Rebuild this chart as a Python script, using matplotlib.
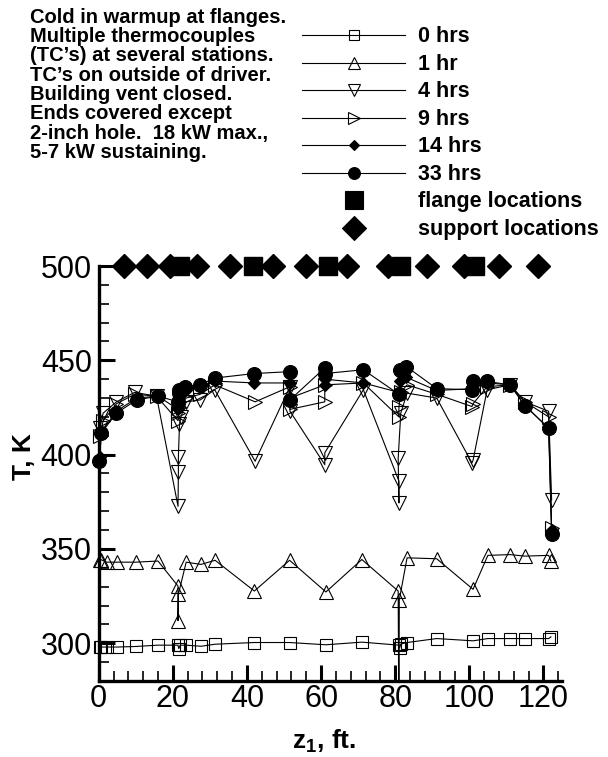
import matplotlib
matplotlib.use("Agg")
import matplotlib.pyplot as plt
from matplotlib.lines import Line2D
from matplotlib.ticker import MultipleLocator
from matplotlib.transforms import Bbox, TransformedBbox

plt.rcParams['font.family'] = ['Liberation Sans', 'DejaVu Sans']
plt.rcParams['mathtext.fontset'] = 'custom'
plt.rcParams['mathtext.rm'] = 'Liberation Sans'
plt.rcParams['mathtext.bf'] = 'Liberation Sans:bold'

# station positions (ft) and temperatures (K) for each time
z_0 = [0.3, 0.5, 2.2, 5, 10, 16, 21.4, 21.6, 22, 23.6, 27.6, 31.4, 42, 51.5, 61.3, 71,
       81, 81.2, 81.5, 83.2, 91.2, 101, 105, 111, 115, 121.4, 122]
T_0 = [298, 298, 298, 298, 298.3, 299, 299, 297.2, 299, 299, 298.4, 299.5, 300.4, 300.4,
       299.2, 300.6, 299, 297.5, 299.6, 300.4, 302.5, 301.3, 302.5, 302.5, 302.5, 302.5, 303.4]

z_1 = [0.3, 0.5, 2.2, 5, 10, 16, 21.4, 21.4, 21.5, 23.6, 27.6, 31.4, 42, 51.5, 61.3, 71,
       80.8, 81, 81.1, 83.2, 91.2, 101, 105, 111, 115, 121.4, 122]
T_1 = [344, 344.4, 343, 343, 343, 343.6, 330.3, 312, 326, 343, 341.8, 344, 327.7, 344,
       327.2, 344.4, 327.7, 250, 323, 345.3, 344.8, 328.6, 346.6, 347, 346.2, 346.6, 343.6]

z_4 = [0.3, 1.2, 4.8, 9.7, 15.6, 21.4, 21.5, 21.5, 21.8, 22.2, 23.6, 27.4, 31.3, 42.2,
       51.6, 51.6, 61, 61, 71.4, 81, 81, 80.8, 81.5, 83.2, 91.2, 100.7, 101, 104.8, 111,
       115, 121.4, 122.2]
T_4 = [414, 422, 428, 433, 431, 372.6, 391, 399, 416, 420, 428, 429, 434.4, 396.5,
       436, 423, 394.7, 401, 434.4, 386, 374.4, 398, 422, 432.6, 430, 395.6, 397, 434.4,
       437, 428, 423, 376]

z_9 = [0.3, 1.2, 4.8, 9.7, 15.6, 21.4, 21.5, 21.8, 23.6, 27.4, 31.3, 42.2, 51.6, 51.6,
       61, 61, 71.4, 81, 81, 81.5, 83.2, 91.2, 100.7, 101, 104.8, 111, 115, 121.4, 122.2]
T_9 = [410, 418, 427, 432, 431, 418, 422, 425, 430, 432, 437, 428, 436, 424,
       428, 437, 438, 420, 425, 433, 437, 432, 425.5, 427, 436, 437, 428, 420, 361]

z_14 = [0.3, 0.7, 4.8, 10.2, 16, 21.4, 21.5, 21.8, 23.6, 27.3, 31.3, 42, 51.6, 51.6,
        61, 61, 71.4, 81, 81.3, 83, 91.2, 101, 104.8, 111, 115, 121.4, 122.2]
T_14 = [399, 412, 423, 430, 431, 424, 428, 431, 434, 436, 439, 438, 438, 430,
        437, 440, 438, 433, 439, 441, 434, 435, 438, 437, 426, 414, 360]

z_33 = [0.2, 0.7, 4.8, 10.2, 16, 21.4, 21.6, 21.8, 23.3, 27.3, 31.3, 42, 51.6, 51.6,
        61, 61, 71.4, 81, 81.3, 82, 83, 91.2, 100.6, 101, 104.8, 111, 115, 121.4, 122.2]
T_33 = [396.5, 411.5, 422, 429, 431, 428, 432.6, 434, 436, 437, 440.6, 443, 444, 429,
        446, 443, 445, 432, 445, 444, 446.7, 435, 434.4, 438.8, 438.8, 437, 426, 414, 358]

flange_z = [22, 41.5, 62, 81.5, 101.5]
support_z = [6.7, 13, 19.3, 26.5, 35.5, 47, 56, 67, 78, 88.5, 98.5, 108, 118.5]
top_T = 500

labels = ['0 hrs', '1 hr', '4 hrs', '9 hrs', '14 hrs', '33 hrs',
          'flange locations', 'support locations']

notes = ['Cold in warmup at flanges.',
         'Multiple thermocouples',
         "(TC\u2019s) at several stations.",
         "TC\u2019s on outside of driver.",
         'Building vent closed.',
         'Ends covered except',
         '2-inch hole.  18 kW max.,',
         '5-7 kW sustaining.']

W, H = 608, 757
fig = plt.figure(figsize=(W / 100, H / 100), dpi=100)
ax = fig.add_axes([98.7 / W, 1 - 681 / H, 463.3 / W, 415 / H])

clip = TransformedBbox(Bbox([[-0.1, 0.0], [1.1, 1.2]]), ax.transAxes)

styles = [
    (z_0, T_0, dict(marker='s', ms=8.5, mfc='none')),
    (z_1, T_1, dict(marker='^', ms=10, mfc='none')),
    (z_4, T_4, dict(marker='v', ms=10, mfc='none')),
    (z_9, T_9, dict(marker='>', ms=10, mfc='none')),
    (z_14, T_14, dict(marker='D', ms=6, mfc='black')),
    (z_33, T_33, dict(marker='o', ms=10, mfc='black')),
]
for z, T, st in styles:
    ln, = ax.plot(z, T, color='black', lw=0.8, mec='black', mew=0.8, **st)
    ln.set_clip_box(clip)

ax.plot(flange_z, [top_T] * len(flange_z), ls='none', marker='s', ms=12.5,
        color='black', clip_on=False, zorder=5)
ax.plot(support_z, [top_T] * len(support_z), ls='none', marker='D', ms=12.2,
        color='black', clip_on=False, zorder=5)

ax.set_xlim(0, 125)
ax.set_ylim(280, 500)
ax.xaxis.set_major_locator(MultipleLocator(20))
ax.xaxis.set_minor_locator(MultipleLocator(4))
ax.yaxis.set_major_locator(MultipleLocator(50))
ax.yaxis.set_minor_locator(MultipleLocator(10))
ax.spines['top'].set_visible(False)
ax.spines['right'].set_visible(False)
for s in ['left', 'bottom']:
    ax.spines[s].set_linewidth(2.4)
ax.tick_params(which='both', direction='in', top=False, right=False, labelsize=22)
ax.tick_params(which='major', length=11.5, width=2.2)
ax.tick_params(which='minor', length=7, width=1.2)
ax.tick_params(axis='x', pad=2)
ax.tick_params(axis='y', pad=5)

ax.set_xlabel(r'$\mathbf{z_1}$, ft.', fontsize=19, fontweight='bold', va='center')
ax.xaxis.set_label_coords(0.486, -0.145)
ax.set_ylabel('T, K', fontsize=19, fontweight='bold', va='center')
ax.yaxis.set_label_coords(-0.161, 0.542)

# note block, top left
for i, line in enumerate(notes):
    fig.text(30 / W, 1 - (22.7 + 19.3 * i) / H, line, fontsize=14.5,
             fontweight='bold', va='baseline', ha='left')

# legend drawn in figure pixels
leg_marks = [
    dict(marker='s', ms=7, mfc='none'),
    dict(marker='^', ms=8.5, mfc='none'),
    dict(marker='v', ms=8.5, mfc='none'),
    dict(marker='>', ms=8.5, mfc='none'),
    dict(marker='D', ms=5, mfc='black'),
    dict(marker='o', ms=8.5, mfc='black'),
    dict(marker='s', ms=13, mfc='black'),
    dict(marker='D', ms=12.7, mfc='black'),
]
for i, (lab, mk) in enumerate(zip(labels, leg_marks)):
    yc = 1 - (35 + 27.5 * i) / H
    if i < 6:
        fig.add_artist(Line2D([302 / W, 405 / W], [yc, yc], color='black', lw=0.8,
                              transform=fig.transFigure))
    fig.add_artist(Line2D([353.5 / W], [yc], ls='none', color='black', mec='black',
                          mew=0.8, transform=fig.transFigure, **mk))
    fig.text(418 / W, 1 - (42.3 + 27.5 * i) / H, lab, fontsize=15.5,
             fontweight='bold', va='baseline', ha='left')

fig.savefig('out.png', dpi=100)
